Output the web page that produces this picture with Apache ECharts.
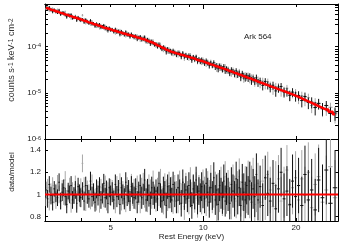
<!DOCTYPE html>
<html><head><meta charset="utf-8">
<script src="https://cdn.jsdelivr.net/npm/echarts@6/dist/echarts.min.js"></script>
<style>html,body{margin:0;padding:0;background:#fff}#c{width:342px;height:244px}</style>
</head><body><div id="c"></div>
<script>
// Bin centre energies (keV)
const energy=[3.08,3.12,3.16,3.20,3.24,3.28,3.32,3.36,3.40,3.44,3.48,3.52,3.56,3.60,3.64,3.68,3.72,3.76,3.80,3.84,3.88,3.92,3.96,4.00,
4.05,4.10,4.15,4.20,4.25,4.30,4.35,4.40,4.45,4.50,4.55,4.60,4.65,4.70,4.75,4.80,4.85,4.90,4.95,5.00,
5.06,5.12,5.18,5.24,5.30,5.36,5.42,5.48,5.54,5.60,5.66,5.72,5.78,5.84,5.90,5.96,
6.03,6.10,6.17,6.24,6.31,6.38,6.45,6.52,6.59,6.66,6.73,6.80,6.87,6.94,
7.02,7.10,7.18,7.26,7.34,7.42,7.50,7.58,7.66,7.74,7.82,7.90,7.98,
8.08,8.18,8.28,8.38,8.48,8.58,8.68,8.78,8.88,8.98,9.08,9.18,9.28,9.38,9.48,9.58,9.68,9.78,9.88,9.98,
10.10,10.22,10.34,10.46,10.58,10.70,10.82,10.94,11.06,11.18,11.30,11.42,11.54,11.66,11.78,11.90,
12.04,12.19,12.34,12.49,12.64,12.79,12.94,13.09,13.24,13.39,13.54,13.69,13.84,13.99,
14.16,14.34,14.52,14.70,14.88,15.06,
15.30,15.60,15.90,16.20,16.50,16.85,17.20,17.55,17.90,18.30,18.70,19.10,19.50,19.95,
20.40,20.90,21.40,21.95,22.50,23.10,23.70,24.40,25.10,25.90,26.80];
// Folded model (counts s^-1 keV^-1 cm^-2)
const model=[6.920e-4,6.722e-4,6.533e-4,6.352e-4,6.178e-4,6.010e-4,5.849e-4,5.694e-4,5.545e-4,5.402e-4,5.264e-4,5.131e-4,5.002e-4,4.879e-4,4.760e-4,4.645e-4,4.533e-4,4.426e-4,4.322e-4,4.222e-4,4.125e-4,4.032e-4,3.941e-4,3.853e-4,
3.747e-4,3.646e-4,3.548e-4,3.454e-4,3.364e-4,3.277e-4,3.193e-4,3.112e-4,3.035e-4,2.960e-4,2.887e-4,2.817e-4,2.750e-4,2.685e-4,2.622e-4,2.561e-4,2.503e-4,2.446e-4,2.391e-4,2.337e-4,
2.283e-4,2.231e-4,2.181e-4,2.133e-4,2.086e-4,2.041e-4,1.997e-4,1.954e-4,1.913e-4,1.874e-4,1.835e-4,1.798e-4,1.762e-4,1.726e-4,1.692e-4,1.659e-4,
1.622e-4,1.586e-4,1.551e-4,1.517e-4,1.485e-4,1.453e-4,1.422e-4,1.393e-4,1.364e-4,1.320e-4,1.275e-4,1.232e-4,1.191e-4,1.152e-4,
1.109e-4,1.069e-4,1.030e-4,9.930e-5,9.577e-5,9.241e-5,8.919e-5,8.613e-5,8.319e-5,8.039e-5,7.798e-5,7.647e-5,7.500e-5,
7.323e-5,7.152e-5,6.987e-5,6.828e-5,6.674e-5,6.526e-5,6.382e-5,6.243e-5,6.109e-5,5.979e-5,5.853e-5,5.731e-5,5.613e-5,5.487e-5,5.353e-5,5.223e-5,5.097e-5,4.976e-5,4.859e-5,4.746e-5,
4.615e-5,4.489e-5,4.368e-5,4.252e-5,4.140e-5,4.032e-5,3.928e-5,3.828e-5,3.732e-5,3.639e-5,3.549e-5,3.462e-5,3.379e-5,3.298e-5,3.220e-5,3.144e-5,
3.056e-5,2.964e-5,2.876e-5,2.792e-5,2.710e-5,2.633e-5,2.558e-5,2.486e-5,2.417e-5,2.351e-5,2.287e-5,2.225e-5,2.166e-5,2.109e-5,
2.047e-5,1.985e-5,1.924e-5,1.867e-5,1.811e-5,1.758e-5,
1.691e-5,1.612e-5,1.537e-5,1.468e-5,1.402e-5,1.331e-5,1.265e-5,1.203e-5,1.146e-5,1.085e-5,1.028e-5,9.755e-6,9.267e-6,8.698e-6,
8.131e-6,7.558e-6,7.037e-6,6.518e-6,6.048e-6,5.586e-6,5.170e-6,4.735e-6,4.347e-6,3.892e-6,3.441e-6];
// data/model ratios: module A (black) and module B (grey)
const ratioA=[1.04,0.96,1.09,0.99,0.93,1.05,1.01,0.97,1.11,0.94,1.02,1.06,0.98,0.91,1.03,1.00,1.08,0.95,0.99,1.04,0.92,1.07,1.01,0.97,
1.03,0.94,1.08,1.00,0.96,1.12,0.98,1.02,0.93,1.05,0.99,1.07,0.95,1.01,1.10,0.97,1.04,0.92,1.06,0.99,
1.02,0.95,1.09,0.98,1.04,0.91,1.06,1.00,0.96,1.11,0.99,1.03,0.94,1.07,1.01,0.97,
1.05,0.93,1.02,1.08,0.97,1.00,1.13,0.95,1.04,0.99,0.92,1.06,1.01,0.97,
1.03,0.96,1.10,0.99,0.94,1.05,1.01,0.90,1.07,0.98,1.04,0.95,1.09,
1.00,0.94,1.06,1.02,0.92,1.11,0.98,1.04,0.96,1.08,1.01,0.90,1.05,0.99,1.13,0.95,1.03,0.97,1.07,1.00,
0.96,1.10,1.02,0.93,1.06,0.99,1.15,0.95,1.04,0.91,1.08,1.01,0.97,1.12,0.94,1.05,
1.00,0.92,1.09,1.03,0.96,1.14,0.98,1.06,0.90,1.11,1.02,0.95,1.08,0.99,
1.12,0.93,1.05,0.98,1.18,0.95,
1.07,0.90,1.15,1.01,0.94,1.10,0.87,1.05,1.20,0.96,1.03,0.91,1.12,0.98,
1.08,0.90,1.18,0.95,1.04,0.86,1.13,0.97,1.22,0.92,1.06];
const ratioB=[0.97,1.06,0.93,1.02,1.08,0.99,0.95,1.10,1.00,0.94,1.05,0.98,1.13,0.96,1.01,1.07,0.92,1.03,0.99,1.09,0.95,1.02,0.97,1.06,
1.28,1.07,0.93,1.04,1.01,0.95,1.09,0.99,0.96,0.94,1.03,0.92,1.06,1.00,0.97,1.08,0.94,1.02,0.99,1.05,
1.04,0.97,0.92,1.07,1.00,1.10,0.95,1.03,0.98,0.93,1.06,1.01,0.96,1.09,0.99,1.04,
0.96,1.07,1.00,0.93,1.05,1.10,0.98,1.02,0.94,1.08,1.03,0.97,1.11,0.99,
0.95,1.04,1.00,1.12,0.97,0.93,1.08,1.02,0.96,1.10,0.99,1.05,0.94,
1.06,1.01,0.95,1.10,0.98,1.03,0.89,1.07,1.00,0.94,1.12,0.99,1.04,0.96,1.08,0.92,1.05,1.01,0.95,1.10,
1.03,0.94,1.08,0.99,1.13,0.96,1.02,1.07,0.90,1.05,0.98,1.11,0.95,1.01,1.16,0.97,
1.07,0.97,0.93,1.12,1.01,0.94,1.05,1.16,0.96,1.02,0.89,1.09,1.00,1.13,
0.96,1.08,1.15,0.91,1.03,1.10,
0.93,1.12,0.97,1.18,1.04,0.89,1.08,1.14,0.94,1.02,1.22,0.90,1.06,1.15,
0.95,1.14,0.99,1.20,0.88,1.09,1.16,0.93,1.04,1.25,0.97];
// relative 1-sigma errors per bin
const relErr=[0.075,0.08,0.075,0.08,0.075,0.07,0.08,0.075,0.08,0.075,0.08,0.075,0.08,0.08,0.075,0.08,0.085,0.08,0.075,0.08,0.085,0.08,0.08,0.085,
0.08,0.085,0.08,0.085,0.08,0.085,0.09,0.08,0.085,0.085,0.09,0.085,0.08,0.09,0.085,0.09,0.085,0.09,0.085,0.09,
0.09,0.085,0.09,0.095,0.09,0.09,0.095,0.09,0.095,0.09,0.095,0.1,0.09,0.095,0.095,0.1,
0.095,0.1,0.095,0.1,0.1,0.095,0.1,0.105,0.1,0.1,0.105,0.1,0.105,0.1,
0.105,0.11,0.105,0.11,0.105,0.11,0.11,0.115,0.11,0.105,0.115,0.11,0.115,
0.115,0.11,0.12,0.115,0.12,0.115,0.12,0.125,0.12,0.12,0.125,0.12,0.13,0.125,0.12,0.13,0.125,0.13,0.13,0.125,
0.13,0.135,0.13,0.14,0.135,0.13,0.14,0.135,0.14,0.145,0.14,0.14,0.145,0.15,0.14,0.145,
0.15,0.145,0.155,0.15,0.16,0.155,0.16,0.165,0.16,0.165,0.17,0.165,0.17,0.175,
0.175,0.18,0.18,0.185,0.19,0.185,
0.19,0.2,0.2,0.205,0.21,0.21,0.22,0.215,0.22,0.23,0.225,0.23,0.24,0.24,
0.25,0.26,0.26,0.27,0.28,0.28,0.29,0.30,0.31,0.32,0.34];
const xTicks=[4,5,6,7,8,9,10,20];
const xMajor=[10];
const xLabels=[5,10,20];
const yTopLabels=[1e-6,1e-5,1e-4];
const yTopTicks=[1e-6,2e-6,3e-6,4e-6,5e-6,6e-6,7e-6,8e-6,9e-6,1e-5,2e-5,3e-5,4e-5,5e-5,6e-5,7e-5,8e-5,9e-5,1e-4,2e-4,3e-4,4e-4,5e-4,6e-4,7e-4,8e-4];
const yBotLabels=[0.8,1,1.2,1.4];
const xRange=[3.06,27.4];
const yTopRange=[1e-6,8.4e-4];
const yBotRange=[0.76,1.5];
const unity=1;

const n=energy.length;
const hw=energy.map((e,i)=>{
  const a=energy[Math.max(0,i-1)], b=energy[Math.min(n-1,i+1)];
  return (b-a)/((i===0||i===n-1)?2:4);
});
function crosses(vals, scale){
  return energy.map((e,i)=>{
    const m=scale?model[i]:1;
    const v=vals[i]*m, er=relErr[i]*m;
    return [e, v, e-hw[i], e+hw[i], v-er, v+er];
  });
}
function makeRender(color){
  return function(params, api){
    const x=api.value(0), y=api.value(1);
    const pl=api.coord([api.value(2),y]), pr=api.coord([api.value(3),y]);
    const pb=api.coord([x,api.value(4)]), pt=api.coord([x,api.value(5)]);
    return {type:'group',children:[
      {type:'line',shape:{x1:pl[0],y1:pl[1],x2:pr[0],y2:pr[1]},style:{stroke:color,lineWidth:1}},
      {type:'line',shape:{x1:pb[0],y1:pb[1],x2:pt[0],y2:pt[1]},style:{stroke:color,lineWidth:1}}
    ]};
  };
}
const F='Liberation Sans, Arial, sans-serif';
const TC='#222';
const lineStyle={color:'#000',width:1};
function xAx(grid,pos,labels,ticks,len){
  return {type:'log',logBase:10,gridIndex:grid,position:pos,min:xRange[0],max:xRange[1],
    axisLine:{show:true,onZero:false,lineStyle},splitLine:{show:false},minorTick:{show:false},
    axisTick:{show:true,inside:true,length:len,lineStyle,customValues:ticks},
    axisLabel:labels?{show:true,customValues:xLabels,fontSize:8,fontFamily:F,color:TC,margin:3}:{show:false},
    name:labels?'Rest Energy (keV)':'',nameLocation:'middle',nameGap:11,
    nameTextStyle:{fontSize:8,fontFamily:F,color:TC}};
}
const sup={fontSize:5.5,fontFamily:F,color:TC,verticalAlign:'top',lineHeight:6};
const supBig={fontSize:6.5,fontFamily:F,fill:'#333',verticalAlign:'top',lineHeight:7};
const option={
  animation:false,
  grid:[{left:45,right:4,top:4,height:135,show:false},{left:45,right:4,top:139,height:82,show:false}],
  xAxis:[xAx(0,'bottom',false,xTicks,3),xAx(0,'top',false,xTicks,3),xAx(1,'bottom',true,xTicks,3),xAx(1,'top',false,xTicks,3),
         xAx(0,'bottom',false,xMajor,5),xAx(0,'top',false,xMajor,5),xAx(1,'bottom',false,xMajor,5),xAx(1,'top',false,xMajor,5)],
  yAxis:[
    {type:'log',logBase:10,gridIndex:0,position:'left',min:yTopRange[0],max:yTopRange[1],
     axisLine:{show:true,lineStyle},splitLine:{show:false},
     axisTick:{show:true,inside:true,length:3,lineStyle,customValues:yTopTicks},
     axisLabel:{show:true,customValues:yTopLabels,fontSize:8,fontFamily:F,color:TC,margin:4,
       formatter:v=>'10{s|'+Math.round(Math.log10(v))+'}',rich:{s:sup}}},
    {type:'log',logBase:10,gridIndex:0,position:'right',min:yTopRange[0],max:yTopRange[1],
     axisLine:{show:true,lineStyle},splitLine:{show:false},
     axisTick:{show:true,inside:true,length:3,lineStyle,customValues:yTopTicks},axisLabel:{show:false}},
    {type:'value',gridIndex:1,position:'left',min:yBotRange[0],max:yBotRange[1],
     axisLine:{show:true,lineStyle},splitLine:{show:false},
     axisTick:{show:true,inside:true,length:3,lineStyle,customValues:yBotLabels},
     axisLabel:{show:true,customValues:yBotLabels,fontSize:8,fontFamily:F,color:TC,margin:4,formatter:v=>String(+v.toFixed(1))}},
    {type:'value',gridIndex:1,position:'right',min:yBotRange[0],max:yBotRange[1],
     axisLine:{show:true,lineStyle},splitLine:{show:false},
     axisTick:{show:true,inside:true,length:3,lineStyle,customValues:yBotLabels},axisLabel:{show:false}}
  ],
  series:[
    {type:'custom',xAxisIndex:0,yAxisIndex:0,renderItem:makeRender('#a8a8a8'),data:crosses(ratioB,true),clip:true},
    {type:'custom',xAxisIndex:0,yAxisIndex:0,renderItem:makeRender('#111'),data:crosses(ratioA,true),clip:true},
    {type:'line',xAxisIndex:0,yAxisIndex:0,step:'middle',showSymbol:false,symbol:'none',
     lineStyle:{color:'#ff0000',width:2.5},data:energy.map((e,i)=>[e,model[i]]),clip:true},
    {type:'custom',xAxisIndex:2,yAxisIndex:2,renderItem:makeRender('#a8a8a8'),data:crosses(ratioB,false),clip:true},
    {type:'custom',xAxisIndex:2,yAxisIndex:2,renderItem:makeRender('#111'),data:crosses(ratioA,false),clip:true},
    {type:'line',xAxisIndex:2,yAxisIndex:2,showSymbol:false,symbol:'none',
     lineStyle:{color:'#ff0000',width:2},data:[[xRange[0],unity],[xRange[1],unity]]}
  ],
  graphic:[
    {type:'text',left:244,top:33,style:{text:'Ark 564',fontSize:8,fontFamily:F,fill:TC}},
    {type:'text',x:12,y:60,rotation:Math.PI/2,style:{text:'counts s{s|-1} keV{s|-1} cm{s|-2}',fontSize:9,fontFamily:F,fill:'#333',
      align:'center',verticalAlign:'middle',rich:{s:supBig}}},
    {type:'text',x:12,y:172,rotation:Math.PI/2,style:{text:'data/model',fontSize:8,fontFamily:F,fill:TC,
      align:'center',verticalAlign:'middle'}}
  ]
};
const chart=echarts.init(document.getElementById('c'),null,{renderer:'canvas'});
chart.setOption(option);
</script></body></html>
